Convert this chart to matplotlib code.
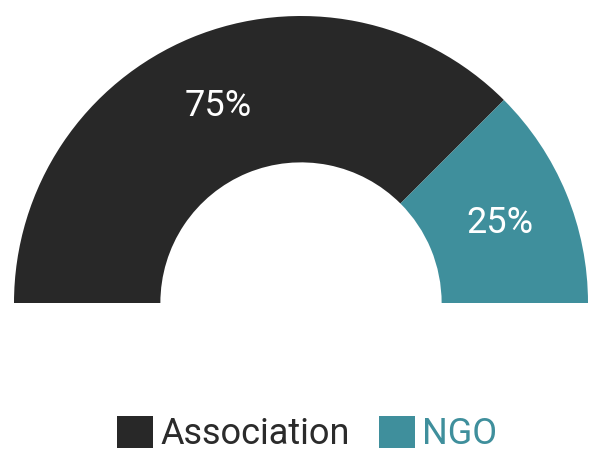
import matplotlib
matplotlib.use('Agg')
import matplotlib.pyplot as plt
import numpy as np

plt.rcParams['font.family'] = ['Roboto', 'DejaVu Sans']

# data
labels = ['Association', 'NGO']
values = [75, 25]
colors = ['#282828', '#3f8f9c']
text_colors = ['#2b2b2b', '#3f8f9c']

fig = plt.figure(figsize=(5.91, 4.55), dpi=100)
ax = fig.add_axes([0, 0, 1, 1])

# half donut: values are scaled so the whole set fills 180 degrees
total = sum(values)
fracs = [v / total / 2 for v in values]
wedges, _ = ax.pie(fracs, colors=colors, startangle=180, counterclock=False,
                   normalize=False, radius=1.0,
                   wedgeprops=dict(width=0.51, edgecolor='none'))

# percent labels at the middle of each ring segment
for w, v in zip(wedges, values):
    ang = np.deg2rad((w.theta1 + w.theta2) / 2)
    ax.text(0.75 * np.cos(ang), 0.75 * np.sin(ang) - 0.008, f'{v}%',
            ha='center', va='center', color='white', fontsize=26)

ax.set_xlim(-301 / 287, 290 / 287)
ax.set_ylim(-152 / 287, 303 / 287)
ax.set_aspect('equal')
ax.axis('off')

leg = fig.legend(wedges, labels, loc='center', bbox_to_anchor=(0.52, 0.046),
                 ncol=2, frameon=False, fontsize=26, handlelength=1.0,
                 handleheight=1.0, handletextpad=0.2, columnspacing=0.8)
for t, c in zip(leg.get_texts(), text_colors):
    t.set_color(c)

plt.savefig('out.png', dpi=100)
plt.close()
